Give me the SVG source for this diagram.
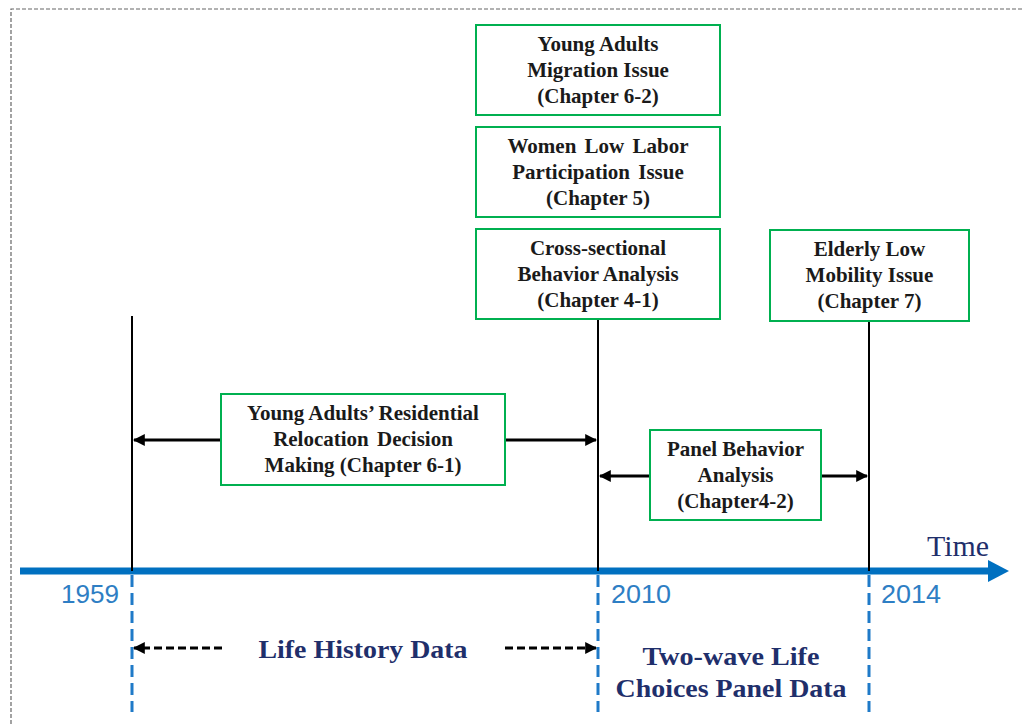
<svg xmlns="http://www.w3.org/2000/svg" width="1023" height="724" viewBox="0 0 1023 724">
  <style>
    .box rect { fill: #ffffff; stroke: #00B050; stroke-width: 2; }
    .box text { font-family: "Liberation Serif", "Times New Roman", serif; font-weight: bold; font-size: 21px; fill: #1a1a1a; text-anchor: middle; }
    .year { font-family: "Liberation Sans", Arial, sans-serif; font-size: 25px; fill: #2E7EC4; }
    .data { font-family: "Liberation Serif", "Times New Roman", serif; font-weight: bold; font-size: 25px; fill: #1F2F6B; text-anchor: middle; }
    .tick { stroke: #000; stroke-width: 2; }
    .guide { stroke: #1F7AC8; stroke-width: 3; stroke-dasharray: 12 6; }
    .link { stroke: #000; stroke-width: 3; fill: none; }
    .span { stroke: #000; stroke-width: 3; stroke-dasharray: 8 4; fill: none; }
  </style>
  <defs>
    <marker id="head" viewBox="0 0 10 10" refX="9" refY="5" markerWidth="4" markerHeight="4" orient="auto-start-reverse" markerUnits="strokeWidth">
      <path d="M0,0 L10,5 L0,10 Z" fill="#000"/>
    </marker>
  </defs>

  <!-- frame -->
  <path d="M11,724 V9 H1023" fill="none" stroke="#666" stroke-width="1.2" stroke-dasharray="4 2"/>

  <!-- time axis -->
  <g id="axis">
    <line x1="20" y1="571" x2="990" y2="571" stroke="#0070C0" stroke-width="7"/>
    <path d="M988,560 L1009,571 L988,582 Z" fill="#0070C0"/>
    <text x="927" y="556" font-family="Liberation Serif, serif" font-size="29" fill="#1F2F6B" textLength="62" lengthAdjust="spacingAndGlyphs">Time</text>
    <text class="year" x="61" y="603" textLength="58" lengthAdjust="spacingAndGlyphs">1959</text>
    <text class="year" x="611" y="603" textLength="60" lengthAdjust="spacingAndGlyphs">2010</text>
    <text class="year" x="881" y="603" textLength="60" lengthAdjust="spacingAndGlyphs">2014</text>
  </g>

  <!-- year markers -->
  <g id="markers">
    <line class="tick" x1="132" y1="316" x2="132" y2="571"/>
    <line class="tick" x1="598" y1="319" x2="598" y2="571"/>
    <line class="tick" x1="869" y1="321" x2="869" y2="571"/>
    <line class="guide" x1="132" y1="575" x2="132" y2="712"/>
    <line class="guide" x1="598" y1="575" x2="598" y2="712"/>
    <line class="guide" x1="869" y1="575" x2="869" y2="712"/>
  </g>

  <!-- connectors -->
  <g id="connectors">
    <line class="link" x1="221" y1="440" x2="134" y2="440" marker-end="url(#head)"/>
    <line class="link" x1="505" y1="440" x2="596" y2="440" marker-end="url(#head)"/>
    <line class="link" x1="650" y1="476" x2="600" y2="476" marker-end="url(#head)"/>
    <line class="link" x1="821" y1="476" x2="867" y2="476" marker-end="url(#head)"/>
    <line class="span" x1="222" y1="648" x2="134" y2="648" marker-end="url(#head)"/>
    <line class="span" x1="505" y1="648" x2="596" y2="648" marker-end="url(#head)"/>
  </g>

  <g id="migration" class="box">
    <rect x="476" y="25" width="244" height="90"/>
    <text x="598" y="51">Young Adults</text>
    <text x="598" y="77">Migration Issue</text>
    <text x="598" y="103">(Chapter 6-2)</text>
  </g>

  <g id="women-labor" class="box">
    <rect x="476" y="127" width="244" height="90"/>
    <text x="598" y="153" word-spacing="3">Women Low Labor</text>
    <text x="598" y="179" word-spacing="3">Participation Issue</text>
    <text x="598" y="205">(Chapter 5)</text>
  </g>

  <g id="cross-sectional" class="box">
    <rect x="476" y="229" width="244" height="90"/>
    <text x="598" y="255">Cross-sectional</text>
    <text x="598" y="281">Behavior Analysis</text>
    <text x="598" y="307">(Chapter 4-1)</text>
  </g>

  <g id="elderly" class="box">
    <rect x="770" y="230" width="199" height="91"/>
    <text x="869.5" y="256">Elderly Low</text>
    <text x="869.5" y="282">Mobility Issue</text>
    <text x="869.5" y="308">(Chapter 7)</text>
  </g>

  <g id="relocation" class="box">
    <rect x="221" y="394" width="284" height="91"/>
    <text x="363" y="420">Young Adults’ Residential</text>
    <text x="363" y="446" word-spacing="3">Relocation Decision</text>
    <text x="363" y="472">Making (Chapter 6-1)</text>
  </g>

  <g id="panel" class="box">
    <rect x="650" y="430" width="171" height="90"/>
    <text x="735.5" y="456">Panel Behavior</text>
    <text x="735.5" y="482">Analysis</text>
    <text x="735.5" y="508">(Chapter4-2)</text>
  </g>

  <!-- data sources -->
  <g id="data-labels">
    <text class="data" x="363" y="658" textLength="209" lengthAdjust="spacingAndGlyphs">Life History Data</text>
    <text class="data" x="731" y="665" textLength="177" lengthAdjust="spacingAndGlyphs">Two-wave Life</text>
    <text class="data" x="731" y="697" textLength="231" lengthAdjust="spacingAndGlyphs">Choices Panel Data</text>
  </g>
</svg>
